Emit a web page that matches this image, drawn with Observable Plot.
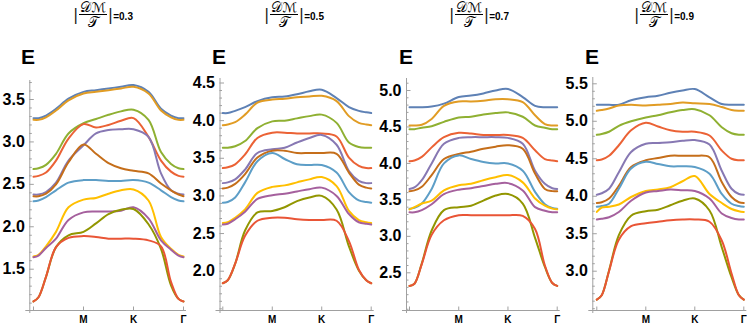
<!DOCTYPE html>
<html><head><meta charset="utf-8">
<script src="https://cdn.jsdelivr.net/npm/d3@7"></script>
<script src="https://cdn.jsdelivr.net/npm/@observablehq/plot@0.6"></script>
<style>
html,body{margin:0;padding:0;background:#fff;}
#root{position:relative;width:747px;height:324px;overflow:hidden;font-family:"Liberation Sans",Arial,sans-serif;}
.panel{position:absolute;top:66px;}
.title{position:absolute;top:0;display:flex;align-items:center;height:29px;color:#000;}
.bar{font-family:"DejaVu Sans",sans-serif;font-size:16px;line-height:16px;color:#222;}
.frac{display:inline-flex;flex-direction:column;align-items:center;margin:0 1px;}
.num{font-family:"DejaVu Sans","DejaVu Serif",serif;font-size:13.5px;line-height:14px;border-bottom:1px solid #000;padding:0 1px;}
.den{font-family:"DejaVu Sans","DejaVu Serif",serif;font-size:13.5px;line-height:14px;}
.eq{font-weight:bold;font-size:10px;position:relative;top:2px;}
.E{position:absolute;font-weight:bold;font-size:21px;line-height:21px;top:46px;}
</style></head><body><div id="root"></div>
<script>
// path coordinate: 0 = Γ, 1 = M, 2 = K, 3 = Γ
const xs = [0, 0.1, 0.25, 0.45, 0.7, 1, 1.25, 1.5, 1.75, 2, 2.3, 2.55, 2.75, 2.9, 3];
const xTickLabels = ["M", "K", "Γ"];
const dmValues = ["0.3", "0.5", "0.7", "0.9"];
const colors = ["#5E81B5","#E19C24","#8FB032","#EB6235","#8778B3","#C56E1A","#5D9EC7","#FFBF00","#A5609D","#929600","#E95536"];

const bands03 = [
  [3.28,3.28,3.31,3.39,3.51,3.59,3.61,3.63,3.65,3.67,3.59,3.39,3.31,3.28,3.28],
  [3.26,3.26,3.29,3.37,3.49,3.57,3.59,3.61,3.63,3.65,3.57,3.37,3.29,3.26,3.26],
  [2.68,2.69,2.73,2.86,3.10,3.22,3.27,3.32,3.36,3.38,3.26,2.88,2.74,2.69,2.68],
  [2.59,2.60,2.64,2.78,3.04,3.21,3.17,3.20,3.25,3.28,3.06,2.78,2.65,2.60,2.59],
  [2.38,2.38,2.41,2.52,2.78,2.96,3.10,3.14,3.15,3.15,3.06,2.63,2.43,2.39,2.38],
  [2.36,2.36,2.39,2.50,2.76,2.97,2.86,2.75,2.69,2.66,2.63,2.51,2.43,2.38,2.36],
  [2.30,2.31,2.35,2.43,2.52,2.55,2.55,2.54,2.54,2.55,2.52,2.43,2.35,2.31,2.30],
  [1.65,1.67,1.77,1.94,2.23,2.32,2.34,2.39,2.43,2.44,2.31,1.88,1.74,1.67,1.65],
  [1.64,1.66,1.75,1.86,2.08,2.17,2.18,2.18,2.19,2.23,2.10,1.84,1.73,1.66,1.64],
  [1.12,1.17,1.41,1.76,1.90,1.94,2.04,2.15,2.20,2.21,2.03,1.74,1.31,1.15,1.12],
  [1.12,1.17,1.41,1.76,1.87,1.89,1.88,1.86,1.86,1.86,1.84,1.77,1.35,1.15,1.12]
];
const bands05 = [
  [4.10,4.10,4.13,4.18,4.26,4.31,4.32,4.35,4.39,4.41,4.30,4.18,4.13,4.11,4.10],
  [3.94,3.95,3.98,4.08,4.24,4.28,4.29,4.31,4.32,4.33,4.26,4.06,3.97,3.95,3.94],
  [3.64,3.64,3.66,3.73,3.90,3.99,4.00,4.03,4.06,4.08,3.97,3.71,3.65,3.64,3.64],
  [3.37,3.38,3.42,3.55,3.77,3.84,3.84,3.83,3.83,3.83,3.79,3.51,3.40,3.37,3.37],
  [3.17,3.18,3.22,3.35,3.57,3.62,3.64,3.71,3.77,3.81,3.68,3.33,3.20,3.17,3.17],
  [3.10,3.11,3.16,3.29,3.51,3.60,3.60,3.57,3.57,3.57,3.56,3.31,3.15,3.11,3.10],
  [2.91,2.92,2.98,3.18,3.46,3.57,3.49,3.42,3.41,3.41,3.31,3.05,2.94,2.92,2.91],
  [2.64,2.65,2.71,2.82,3.04,3.12,3.14,3.18,3.22,3.25,3.13,2.80,2.68,2.65,2.64],
  [2.62,2.63,2.69,2.79,2.96,3.01,3.03,3.06,3.09,3.11,3.00,2.76,2.65,2.63,2.62],
  [1.84,1.88,2.10,2.54,2.78,2.80,2.85,2.93,2.98,3.00,2.82,2.33,2.01,1.88,1.84],
  [1.84,1.88,2.10,2.47,2.67,2.71,2.71,2.69,2.68,2.68,2.67,2.40,2.02,1.88,1.84]
];
const bands07 = [
  [4.77,4.77,4.77,4.78,4.82,4.91,4.93,4.96,5.00,5.02,4.91,4.79,4.77,4.77,4.77],
  [4.52,4.52,4.53,4.61,4.79,4.85,4.85,4.86,4.88,4.88,4.84,4.66,4.54,4.52,4.52],
  [4.47,4.47,4.49,4.51,4.57,4.63,4.64,4.67,4.69,4.70,4.64,4.52,4.49,4.47,4.47],
  [4.03,4.04,4.09,4.22,4.36,4.42,4.41,4.39,4.39,4.39,4.35,4.18,4.06,4.04,4.03],
  [3.65,3.67,3.77,4.00,4.27,4.35,4.36,4.36,4.36,4.35,4.27,3.90,3.72,3.66,3.65],
  [3.62,3.63,3.68,3.84,4.06,4.13,4.16,4.20,4.23,4.25,4.20,3.86,3.65,3.62,3.62],
  [3.38,3.39,3.45,3.65,4.00,4.11,4.06,4.02,4.00,4.00,3.90,3.61,3.44,3.39,3.38],
  [3.37,3.40,3.45,3.49,3.63,3.70,3.72,3.77,3.81,3.84,3.74,3.52,3.42,3.38,3.37],
  [3.33,3.33,3.36,3.44,3.58,3.64,3.66,3.69,3.72,3.73,3.63,3.40,3.35,3.33,3.33],
  [2.32,2.35,2.63,3.08,3.36,3.40,3.42,3.49,3.56,3.58,3.45,2.98,2.58,2.36,2.32],
  [2.32,2.35,2.62,3.02,3.22,3.29,3.29,3.29,3.29,3.29,3.28,3.10,2.60,2.36,2.32]
];
const bands09 = [
  [5.22,5.22,5.22,5.22,5.28,5.32,5.34,5.38,5.41,5.43,5.32,5.23,5.22,5.22,5.22],
  [5.14,5.15,5.17,5.21,5.22,5.21,5.22,5.23,5.25,5.24,5.23,5.19,5.15,5.14,5.14],
  [4.82,4.83,4.86,4.94,5.00,5.05,5.08,5.12,5.15,5.16,5.08,4.92,4.84,4.82,4.82],
  [4.48,4.49,4.54,4.68,4.88,4.98,4.93,4.88,4.86,4.86,4.81,4.61,4.50,4.48,4.48],
  [4.02,4.04,4.10,4.32,4.59,4.70,4.71,4.72,4.74,4.75,4.69,4.34,4.10,4.03,4.02],
  [3.91,3.92,3.97,4.14,4.39,4.48,4.51,4.54,4.54,4.54,4.52,4.19,3.99,3.92,3.91],
  [3.86,3.87,3.90,4.10,4.37,4.46,4.43,4.40,4.40,4.39,4.30,4.03,3.90,3.87,3.86],
  [3.79,3.85,3.86,3.89,3.99,4.07,4.09,4.12,4.20,4.27,4.03,3.91,3.83,3.80,3.79],
  [3.69,3.70,3.72,3.79,3.94,4.05,4.07,4.09,4.08,4.07,3.97,3.77,3.71,3.69,3.69],
  [2.62,2.68,3.01,3.48,3.74,3.80,3.82,3.88,3.94,3.97,3.81,3.32,2.92,2.68,2.62],
  [2.62,2.68,3.00,3.42,3.60,3.64,3.66,3.68,3.69,3.69,3.66,3.41,2.97,2.68,2.62]
];
const majorTicks = [
  [1.5, 2.0, 2.5, 3.0, 3.5],
  [2.0, 2.5, 3.0, 3.5, 4.0, 4.5],
  [2.5, 3.0, 3.5, 4.0, 4.5, 5.0],
  [3.0, 3.5, 4.0, 4.5, 5.0, 5.5]
];
const allBands = [bands03, bands05, bands07, bands09];

// layout (pixels)
const layout = [
  {left: 0,   width: 188, axisX: 29.3,  g0: 33,    g3: 183,   xEnd: 186,   yTop: 80, yBot: 310, cal: [[3.5, 99], [1.5, 268.7]], titleX: 73,  eX: 21},
  {left: 188, width: 186, axisX: 219.5, g0: 222.3, g3: 370.7, xEnd: 373.7, yTop: 78, yBot: 310, cal: [[4.5, 82.5], [2.0, 270.7]], titleX: 264, eX: 212},
  {left: 374, width: 186, axisX: 406,   g0: 409,   g3: 556.7, xEnd: 559.7, yTop: 78, yBot: 310, cal: [[5.0, 90], [2.5, 272.3]], titleX: 449, eX: 399},
  {left: 560, width: 187, axisX: 592.3, g0: 596.3, g3: 743.3, xEnd: 746.3, yTop: 77, yBot: 310, cal: [[5.5, 83.3], [3.0, 270.7]], titleX: 634, eX: 585}
];

const root = document.getElementById("root");
const T = 66, H = 324 - T;
const gray = "#a0a0a0";

layout.forEach((L, p) => {
  const bands = allBands[p];
  const ppx = (L.g3 - L.g0) / 3;
  const x0 = -(L.g0 - L.axisX) / ppx;
  const x1 = 3 + (L.xEnd - L.g3) / ppx;
  const [[va, pa], [vb, pb]] = L.cal;
  const ppy = (pb - pa) / (va - vb);
  const ymax = va + (pa - L.yTop) / ppy;
  const ymin = va - (L.yBot - pa) / ppy;
  const mL = L.axisX - L.left, mR = L.left + L.width - L.xEnd;
  const mT = L.yTop - T, mB = T + H - L.yBot;
  const frameW = L.width - mL - mR, frameH = H - mT - mB;
  const majors = majorTicks[p];
  const minors = d3.range(Math.ceil(ymin * 10), Math.floor(ymax * 10) + 1)
    .map(k => k / 10).filter(v => !majors.some(m => Math.abs(m - v) < 1e-6));
  const data = bands.flatMap((vals, b) => vals.map((v, i) => ({band: b, x: xs[i], e: v})));

  const chart = Plot.plot({
    width: L.width, height: H,
    marginLeft: mL, marginRight: mR, marginTop: mT, marginBottom: mB,
    x: {domain: [x0, x1]},
    y: {domain: [ymin, ymax]},
    color: {type: "ordinal", domain: d3.range(colors.length), range: colors},
    style: {background: "transparent", fontFamily: "'Liberation Sans', Arial, sans-serif", overflow: "visible"},
    marks: [
      Plot.ruleX([x0], {stroke: gray, strokeWidth: 1, insetBottom: -3}),
      Plot.ruleY([ymin], {stroke: gray, strokeWidth: 1, insetLeft: -4}),
      Plot.tickY(majors, {y: d => d, stroke: gray, insetRight: frameW - 4.5}),
      Plot.tickY(minors, {y: d => d, stroke: gray, insetRight: frameW - 2.5}),
      Plot.tickX([0, 1, 2, 3], {x: d => d, stroke: gray, insetTop: frameH - 3.5}),
      Plot.axisY({ticks: majors, tickSize: 0, tickPadding: 5, tickFormat: d3.format(".1f"), fontSize: 16, fontWeight: "bold", label: null}),
      Plot.axisX({ticks: [1, 2, 3], tickSize: 0, tickPadding: 5, tickFormat: d => xTickLabels[d - 1], fontSize: 10, fontWeight: "bold", label: null}),
      Plot.line(data, {x: "x", y: "e", z: "band", stroke: "band", strokeWidth: 2, curve: "catmull-rom"})
    ]
  });
  chart.classList.add("panel");
  chart.style.left = L.left + "px";
  chart.style.top = T + "px";
  chart.style.position = "absolute";
  root.appendChild(chart);

  const title = document.createElement("div");
  title.className = "title";
  title.style.left = L.titleX + "px";
  title.innerHTML = `<span class="bar">|</span><span class="frac"><span class="num">𝒟ℳ</span><span class="den">𝒯</span></span><span class="bar">|</span><span class="eq">=${dmValues[p]}</span>`;
  root.appendChild(title);

  const e = document.createElement("div");
  e.className = "E";
  e.style.left = L.eX + "px";
  e.textContent = "E";
  root.appendChild(e);
});
</script>
</body></html>
